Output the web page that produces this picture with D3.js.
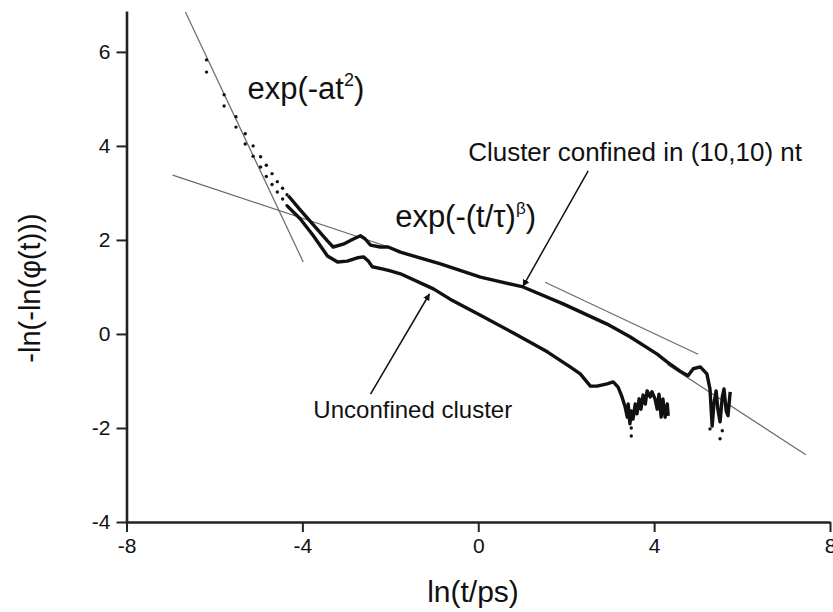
<!DOCTYPE html>
<html>
<head>
<meta charset="utf-8">
<script src="https://cdn.jsdelivr.net/npm/d3@7"></script>
<style>
  body { margin: 0; background: #fff; }
  svg { display: block; }
  text { font-family: "Liberation Sans", Arial, Helvetica, sans-serif; fill: #111; }
</style>
</head>
<body>
<div id="chart"></div>
<script>
// ln(t/ps) vs -ln(-ln(phi(t)))

// early, sparse points (drawn as dots)
var confinedDots = [
  [-6.18, 5.83], [-5.78, 5.09], [-5.51, 4.62], [-5.30, 4.26], [-5.12, 4.00],
  [-4.95, 3.77], [-4.82, 3.59], [-4.69, 3.41], [-4.57, 3.24], [-4.45, 3.10], [-4.35, 2.96]
]
var unconfinedDots = [
  [-6.18, 5.57], [-5.78, 4.85], [-5.51, 4.40], [-5.30, 4.04], [-5.12, 3.78],
  [-4.95, 3.55], [-4.82, 3.35], [-4.69, 3.18], [-4.57, 3.02], [-4.45, 2.87], [-4.35, 2.73]
]

// cluster confined in (10,10) nt
var confined = [
  [-4.32, 2.94], [-4.05, 2.64], [-3.75, 2.32], [-3.43, 1.98], [-3.30, 1.85],
  [-3.07, 1.91], [-2.84, 2.02], [-2.68, 2.09], [-2.57, 2.02], [-2.45, 1.89],
  [-2.23, 1.85], [-2.05, 1.85], [-1.77, 1.74], [-0.86, 1.49], [0.05, 1.21],
  [1.02, 1.00], [1.93, 0.64], [2.93, 0.21], [3.45, -0.06], [4.07, -0.43],
  [4.30, -0.60], [4.59, -0.79], [4.77, -0.89], [4.89, -0.74], [5.05, -0.70],
  [5.20, -0.85], [5.27, -1.17], [5.32, -1.96], [5.36, -1.49], [5.41, -1.21],
  [5.45, -1.60], [5.50, -1.87], [5.55, -1.34], [5.59, -1.17], [5.64, -1.64],
  [5.68, -1.74], [5.73, -1.23]
]

// unconfined cluster
var unconfined = [
  [-4.34, 2.72], [-4.05, 2.45], [-3.75, 2.09], [-3.43, 1.66], [-3.20, 1.53],
  [-2.98, 1.55], [-2.75, 1.62], [-2.61, 1.64], [-2.50, 1.55], [-2.41, 1.43],
  [-2.16, 1.38], [-2.00, 1.34], [-1.77, 1.28], [-1.02, 0.96], [-0.64, 0.74],
  [0.05, 0.40], [0.80, 0.02], [1.57, -0.38], [2.09, -0.70], [2.32, -0.85],
  [2.55, -1.11], [2.70, -1.11], [2.93, -1.06], [3.07, -1.02], [3.18, -1.13],
  [3.27, -1.34], [3.34, -1.55], [3.39, -1.77], [3.41, -1.49], [3.45, -1.91],
  [3.48, -1.64], [3.52, -1.81], [3.57, -1.49], [3.61, -1.70], [3.66, -1.38],
  [3.70, -1.60], [3.75, -1.30], [3.80, -1.49], [3.84, -1.21], [3.91, -1.34],
  [3.95, -1.23], [4.02, -1.38], [4.07, -1.60], [4.11, -1.28], [4.16, -1.77],
  [4.20, -1.38], [4.25, -1.77], [4.30, -1.49], [4.32, -1.74]
]

// stray late points below the noisy tails
var strayDots = [[3.48, -2.00], [3.48, -2.17], [5.27, -2.02], [5.50, -2.23], [5.55, -2.06]]

// straight fit lines
var fitLines = [
  [[-6.66, 6.85], [-3.98, 1.53]],
  [[-6.95, 3.38], [-2.00, 1.84]],
  [[1.52, 1.10], [5.00, -0.43]],
  [[4.30, -0.65], [7.45, -2.57]]
]

var xTicks = [-8, -4, 0, 4, 8]
var yTicks = [-4, -2, 0, 2, 4, 6]

var width = 833, height = 612

var svg = d3.select("#chart").append("svg")
  .attr("width", width)
  .attr("height", height)

var x = d3.scaleLinear().domain([-8, 8]).range([126.5, 830])
var y = d3.scaleLinear().domain([-4, 6.87]).range([522, 11])

// axes (plain hyphen for negatives, like the original)
var fmt = d => String(d)
svg.append("g")
  .attr("transform", "translate(0," + y(-4) + ")")
  .call(d3.axisBottom(x).tickValues(xTicks).tickFormat(fmt).tickSize(10).tickSizeOuter(0).tickPadding(6))
svg.append("g")
  .attr("transform", "translate(" + x(-8) + ",0)")
  .call(d3.axisLeft(y).tickValues(yTicks).tickFormat(fmt).tickSize(10).tickSizeOuter(0).tickPadding(6))

svg.selectAll(".domain").attr("stroke", "#222").attr("stroke-width", 2.6)
svg.selectAll(".tick line").attr("stroke", "#222").attr("stroke-width", 2)
svg.selectAll(".tick text").style("font-size", "21px").attr("fill", "#111")
  .style("font-family", "'Liberation Sans', Arial, sans-serif")

// fit lines
var line = d3.line().x(d => x(d[0])).y(d => y(d[1]))

svg.append("g").selectAll("path")
  .data(fitLines)
  .enter().append("path")
    .attr("d", line)
    .attr("fill", "none")
    .attr("stroke", "#6a6a6a")
    .attr("stroke-width", 1.2)

// data curves
svg.append("g").selectAll("path")
  .data([confined, unconfined])
  .enter().append("path")
    .attr("d", line)
    .attr("fill", "none")
    .attr("stroke", "#111")
    .attr("stroke-width", 3.4)
    .attr("stroke-linejoin", "round")

svg.append("g").selectAll("circle")
  .data(confinedDots.concat(unconfinedDots, strayDots))
  .enter().append("circle")
    .attr("cx", d => x(d[0]))
    .attr("cy", d => y(d[1]))
    .attr("r", 1.7)
    .attr("fill", "#111")

// arrows
var defs = svg.append("defs")
defs.append("marker")
  .attr("id", "arrow")
  .attr("viewBox", "0 0 10 10")
  .attr("refX", 9).attr("refY", 5)
  .attr("markerWidth", 7).attr("markerHeight", 7)
  .attr("markerUnits", "userSpaceOnUse")
  .attr("orient", "auto")
  .append("path")
    .attr("d", "M0,0L10,5L0,10z")
    .attr("fill", "#111")

var arrows = [
  [[2.50, 3.47], [1.02, 1.02]],
  [[-2.45, -1.28], [-1.11, 0.85]]
]
svg.append("g").selectAll("line")
  .data(arrows)
  .enter().append("line")
    .attr("x1", d => x(d[0][0])).attr("y1", d => y(d[0][1]))
    .attr("x2", d => x(d[1][0])).attr("y2", d => y(d[1][1]))
    .attr("stroke", "#111")
    .attr("stroke-width", 1.5)
    .attr("marker-end", "url(#arrow)")

// labels
var t1 = svg.append("text")
  .attr("x", x(-5.25)).attr("y", y(5.0))
  .style("font-size", "31px")
t1.append("tspan").text("exp(-at")
t1.append("tspan").attr("dy", -13).style("font-size", "18px").text("2")
t1.append("tspan").attr("dy", 13).text(")")

var t2 = svg.append("text")
  .attr("x", x(-1.89)).attr("y", y(2.28))
  .style("font-size", "31px")
t2.append("tspan").text("exp(-(t/τ)")
t2.append("tspan").attr("dy", -13).style("font-size", "17px").text("β")
t2.append("tspan").attr("dy", 13).text(")")

svg.append("text")
  .attr("x", x(-0.23)).attr("y", y(3.68))
  .style("font-size", "26px")
  .text("Cluster confined in (10,10) nt")

svg.append("text")
  .attr("x", x(-3.75)).attr("y", y(-1.79))
  .style("font-size", "24px")
  .text("Unconfined cluster")

// axis titles
svg.append("text")
  .attr("x", 473).attr("y", 602)
  .attr("text-anchor", "middle")
  .style("font-size", "30px")
  .text("ln(t/ps)")

svg.append("text")
  .attr("transform", "translate(40,288) rotate(-90)")
  .attr("text-anchor", "middle")
  .style("font-size", "29px")
  .text("-ln(-ln(φ(t)))")
</script>
</body>
</html>
